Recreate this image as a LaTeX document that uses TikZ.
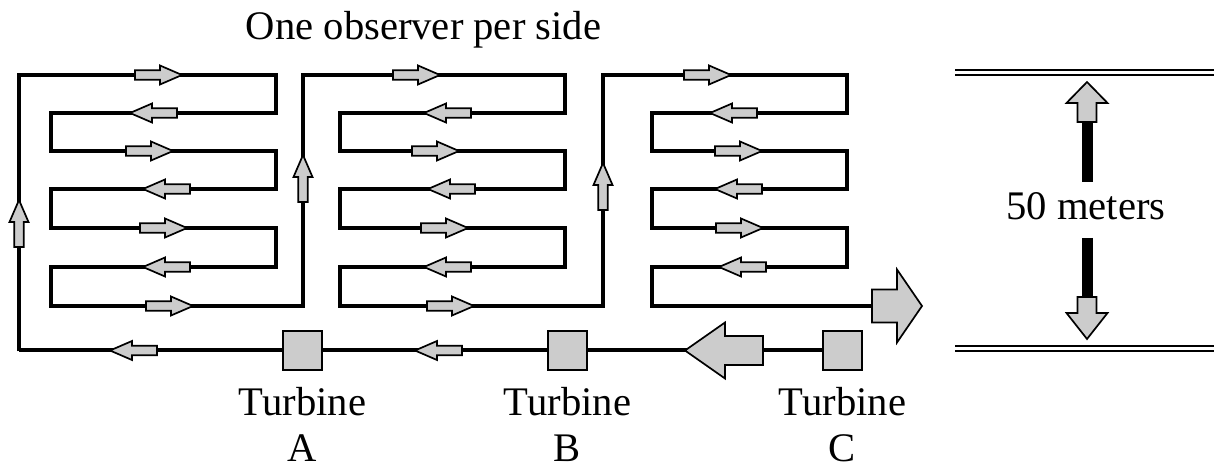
\documentclass[tikz,border=0pt]{standalone}
\usepackage{fontspec}
\setmainfont{Liberation Serif}
\usepackage{tikz}
\usetikzlibrary{positioning}

\definecolor{arrowgray}{gray}{0.8}

\tikzset{
  pipe/.style={line width=2.4pt},
  mainline/.style={line width=2pt},
  arrowfill/.style={fill=arrowgray, draw=black, line width=0.85pt, line join=miter},
  turbine/.style={draw=black, fill=arrowgray, line width=0.8pt, minimum size=19.5pt, inner sep=0pt},
  lbl/.style={font=\fontsize{20.3}{23.3}\selectfont, inner sep=0pt, align=center},
  wall/.style={double, double distance=1.5pt, line width=1pt}
}

\newcommand{\blockarrow}[6]{%
  \filldraw[arrowfill, shift={#1}, rotate=#2]
    (0,0) -- (-#4,-#5) -- (-#4,-#6) -- (-#3,-#6) -- (-#3,#6) -- (-#4,#6) -- (-#4,#5) -- cycle;}

\begin{document}
\begin{tikzpicture}[x=0.5pt, y=-0.5pt]

\useasboundingbox (0,0) rectangle (1214,469);

\node[turbine] (tA) at (302.5,350.5) {};
\node[turbine] (tB) at (567.5,350.5) {};
\node[turbine] (tC) at (842.5,350.5) {};

\node[lbl, below=8pt of tA] (labA) {Turbine\\A};
\node[lbl, below=8pt of tB] (labB) {Turbine\\B};
\node[lbl, below=8pt of tC] (labC) {Turbine\\C};

\node[lbl, anchor=base] (title) at (423.5,40) {One observer per side};

\draw[mainline] (tC.west) -- (tB.east);
\draw[mainline] (tB.west) -- (tA.east);
\draw[mainline] (tA.west) -- (19,350.5);
\draw[pipe] (19,351.5) -- (19,75) -- (276,75) -- (276,113) -- (51,113) -- (51,151)
  -- (276,151) -- (276,189) -- (51,189) -- (51,228) -- (276,228) -- (276,267)
  -- (51,267) -- (51,306) -- (303,306) -- (303,75) -- (565,75) -- (565,113)
  -- (340,113) -- (340,151) -- (565,151) -- (565,189) -- (340,189) -- (340,228)
  -- (565,228) -- (565,267) -- (340,267) -- (340,306) -- (603,306) -- (603,75)
  -- (847,75) -- (847,113) -- (652,113) -- (652,151) -- (847,151) -- (847,189)
  -- (652,189) -- (652,228) -- (847,228) -- (847,267) -- (652,267) -- (652,306)
  -- (880,306);

\foreach \x/\y/\a in {182/75/0, 130/113/180, 173/151/0, 143/189/180, 187/228/0, 143/267/180, 193/306/0,
                      440/75/0, 424/113/180, 459/151/0, 428/189/180, 468/228/0, 424/267/180, 474/306/0,
                      731/75/0, 710/113/180, 762/151/0, 715/189/180, 763/228/0, 719/267/180,
                      19/200/90, 303/155/90, 603/163/90, 110/350.5/180, 415/350.5/180}
    {\blockarrow{(\x,\y)}{\a}{47}{22}{9.5}{4.8}}

\blockarrow{(922,306)}{0}{50}{25}{36.5}{16.5}
\blockarrow{(685,350.5)}{180}{78}{40}{28}{14.5}

\draw[wall] (955,72.5) -- (1214,72.5);
\draw[wall] (955,349) -- (1214,349);

\node[lbl, anchor=base] (dim) at (1086,220) {50 meters};
\coordinate (up) at (1087,82);
\coordinate (down) at (1087,339);

\draw[line width=5.5pt] (1087,182) -- (1087,122);
\draw[line width=5.5pt] (1087,238) -- (1087,298);
\blockarrow{(up)}{90}{40}{21}{20.5}{9.5}
\blockarrow{(down)}{-90}{42}{26}{20.5}{9.5}

\end{tikzpicture}
\end{document}
